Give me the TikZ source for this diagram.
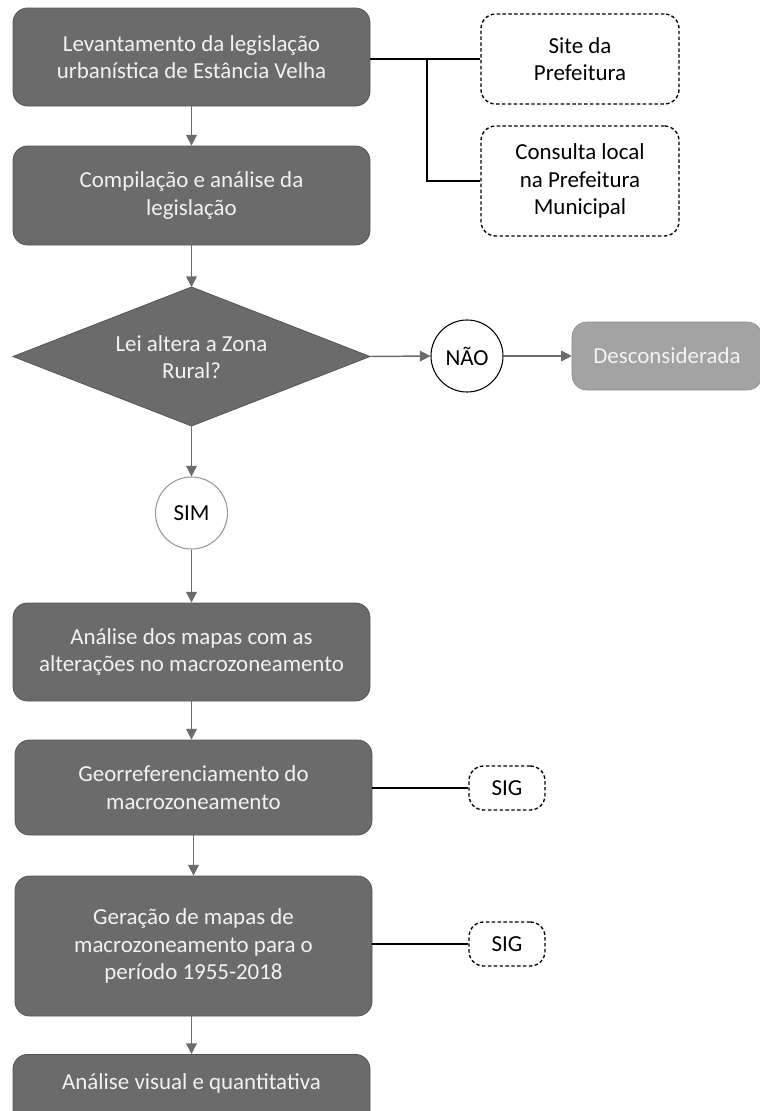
\documentclass[tikz,border=0pt]{standalone}
\usepackage{fontspec}
\setmainfont{Carlito}
\usetikzlibrary{arrows.meta}
\definecolor{boxgray}{HTML}{6B6B6B}
\definecolor{boxedge}{HTML}{555555}
\definecolor{lightbox}{HTML}{A3A3A3}
\definecolor{lightedge}{HTML}{8C8C8C}
\definecolor{txtwhite}{HTML}{F2F2F2}
\newcommand{\diafont}{\fontsize{17.2}{20.5}\selectfont}
\tikzset{
  x=0.75pt, y=-0.75pt,
  stepbox/.style={draw=boxedge, fill=boxgray, rounded corners=11pt, text=txtwhite,
    align=center, inner sep=0pt, font=\diafont, line width=0.6pt},
  srcbox/.style={draw=black, dash pattern=on 2.6pt off 1.8pt, fill=white, rounded corners=11pt,
    align=center, inner sep=0pt, font=\diafont, line width=1pt},
  flow/.style={draw=boxgray, line width=1.1pt, -{Triangle[length=8pt,width=8pt]}},
  link/.style={draw=black, line width=0.9pt},
}
\begin{document}
\begin{tikzpicture}
\useasboundingbox (0,0) rectangle (760,1111);
\clip (0,0) rectangle (760,1111);
% main column
\node[stepbox, minimum width=357*0.75pt, minimum height=98*0.75pt] (b1) at (191.5,57)
  {Levantamento da legislação\\urbanística de Estância Velha};
\node[stepbox, minimum width=357*0.75pt, minimum height=99*0.75pt] (b2) at (191.5,195.5)
  {Compilação e análise da\\legislação};
% diamond
\coordinate (dl) at (13,356.5);
\coordinate (dt) at (191.5,287);
\coordinate (dr) at (370,356.5);
\coordinate (db) at (191.5,426);
\draw[draw=boxedge, fill=boxgray, line width=0.6pt] (dl) -- (dt) -- (dr) -- (db) -- cycle;
\node[text=txtwhite, align=center, font=\diafont] (d) at (191.5,357)
  {Lei altera a Zona\\Rural?};
\node[circle, draw=gray!80, fill=white, minimum size=72*0.75pt, inner sep=0pt, line width=0.8pt,
  font=\diafont] (sim) at (191.5,513) {SIM};
\node[stepbox, minimum width=357*0.75pt, minimum height=98*0.75pt] (b3) at (191.5,652)
  {Análise dos mapas com as\\alterações no macrozoneamento};
\node[stepbox, minimum width=357*0.75pt, minimum height=95*0.75pt] (b4) at (193.5,787.5)
  {Georreferenciamento do\\macrozoneamento};
\node[stepbox, minimum width=357*0.75pt, minimum height=140*0.75pt] (b5) at (193.5,946)
  {Geração de mapas de\\macrozoneamento para o\\período 1955-2018};
\node[stepbox, minimum width=357*0.75pt, minimum height=120*0.75pt, anchor=north] (b6) at (191.5,1054) {};
\node[text=txtwhite, font=\diafont] (b6t) at (191.5,1083) {Análise visual e quantitativa};
% right side
\node[srcbox, minimum width=198*0.75pt, minimum height=90*0.75pt] (site) at (580,59)
  {Site da\\Prefeitura};
\node[srcbox, minimum width=198*0.75pt, minimum height=110*0.75pt] (cons) at (580,181)
  {Consulta local\\na Prefeitura\\Municipal};
\node[circle, draw=black, fill=white, minimum size=72*0.75pt, inner sep=0pt, line width=0.8pt,
  font=\diafont] (nao) at (467,356) {NÃO};
\node[draw=lightedge, fill=lightbox, rounded corners=11pt, text=txtwhite, inner sep=0pt,
  minimum width=190*0.75pt, minimum height=68*0.75pt, font=\diafont]
  (desc) at (667,356) {Desconsiderada};
\node[srcbox, minimum width=76*0.75pt, minimum height=44*0.75pt] (sig1) at (507,788) {SIG};
\node[srcbox, minimum width=76*0.75pt, minimum height=44*0.75pt] (sig2) at (507,944) {SIG};
% connectors
\coordinate (br) at (427,59);
\draw[link] (b1.east |- site.west) -- (site.west);
\draw[link] (br) |- (cons.west);
\draw[flow] (b1.south) -- (b2.north);
\draw[flow] (b2.south) -- (dt);
\draw[flow] (dr) -- (nao.west);
\draw[flow] (nao.east) -- (desc.west);
\draw[flow] (db) -- (sim.north);
\draw[flow] (sim.south) -- (b3.north);
\draw[flow] (b3.south) -- (b3.south |- b4.north);
\draw[flow] (b4.south) -- (b5.north);
\draw[flow] (b5.south -| b6.north) -- (b6.north);
\draw[link] (b4.east |- sig1.west) -- (sig1.west);
\draw[link] (b5.east |- sig2.west) -- (sig2.west);
\end{tikzpicture}
\end{document}
